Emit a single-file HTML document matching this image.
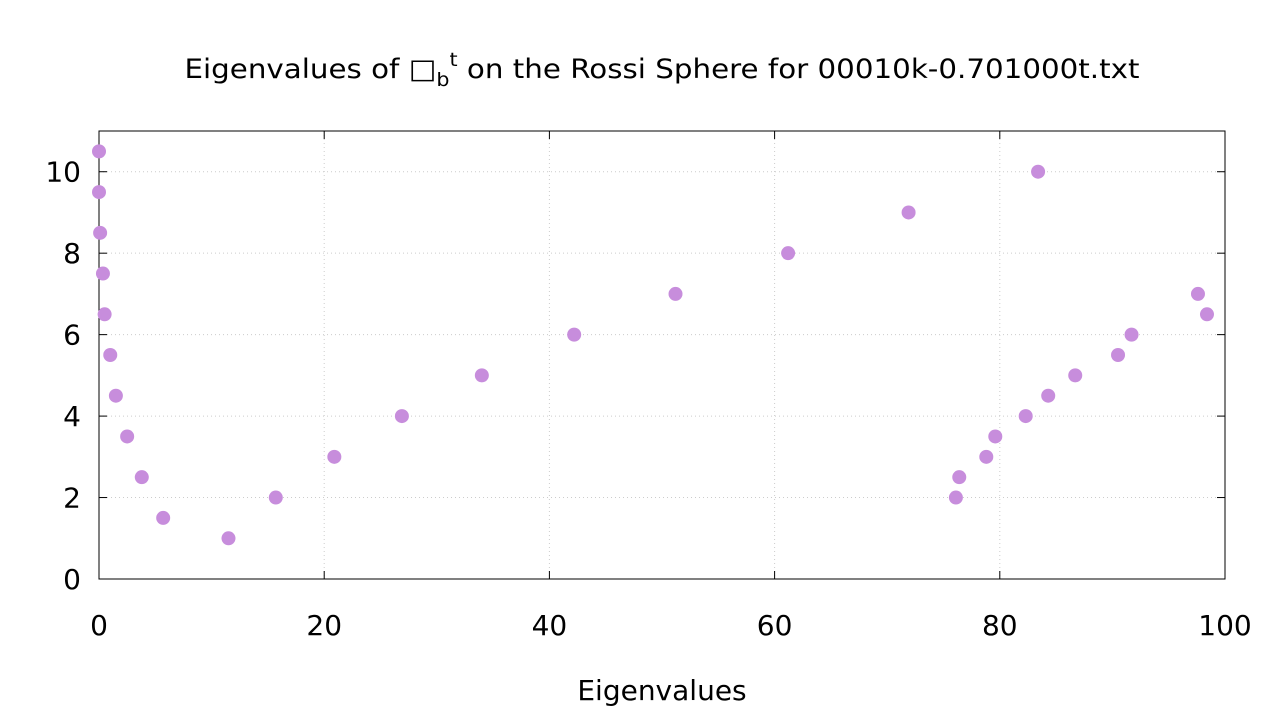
<!DOCTYPE html>
<html><head><meta charset="utf-8"><style>
body{margin:0;background:#fff;}
svg{display:block;font-family:"DejaVu Sans","Liberation Sans",sans-serif;}
</style></head><body>
<svg id="chart" width="1280" height="720">
<rect width="1280" height="720" fill="#fff"/>
<text x="662" y="78" text-anchor="middle" font-size="27" textLength="955" lengthAdjust="spacingAndGlyphs" fill="#000">Eigenvalues of □<tspan font-size="19" dy="8">b</tspan><tspan font-size="19" dy="-20">t</tspan><tspan dy="12"> on the Rossi Sphere for 00010k-0.701000t.txt</tspan></text>
<text x="662" y="700" text-anchor="middle" font-size="28" fill="#000">Eigenvalues</text>
<g id="grid"></g><g id="axes"></g><g id="points"></g>
</svg>
<script>
const xTicks=[0,20,40,60,80,100];
const yTicks=[0,2,4,6,8,10];
const xs=[0,0,0.1,0.35,0.5,1,1.5,2.5,3.8,5.7,11.5,15.7,20.9,26.9,34,42.2,51.2,61.2,71.9,83.4,76.1,76.4,78.8,79.6,82.3,84.3,86.7,90.5,91.7,97.6,98.4];
const ys=[10.5,9.5,8.5,7.5,6.5,5.5,4.5,3.5,2.5,1.5,1,2,3,4,5,6,7,8,9,10,2,2.5,3,3.5,4,4.5,5,5.5,6,7,6.5];
const L=99,R=1225,T=131,B=579;
const sx=v=>L+(R-L)*v/100, sy=v=>B-(B-T)*v/11;
const NS="http://www.w3.org/2000/svg";
function mk(t,a,p){const e=document.createElementNS(NS,t);for(const k in a)e.setAttribute(k,a[k]);p.appendChild(e);return e;}
const g=document.getElementById('grid'),ax=document.getElementById('axes'),pts=document.getElementById('points');
xTicks.forEach(v=>{const x=sx(v);
 if(v>0&&v<100){const l=mk('line',{x1:x,x2:x,y1:T,y2:B,stroke:'#ccc','stroke-dasharray':'1,3'},g);
 
 }
 mk('line',{x1:x,x2:x,y1:B,y2:B-8,stroke:'#000'},ax);mk('line',{x1:x,x2:x,y1:T,y2:T+8,stroke:'#000'},ax);
 const t=mk('text',{x:x,y:635,'text-anchor':'middle','font-size':'28'},ax);t.textContent=v;
 
 });
yTicks.forEach(v=>{const y=sy(v);
 if(v>0){const l=mk('line',{x1:L,x2:R,y1:y,y2:y,stroke:'#ccc','stroke-dasharray':'1,3'},g);
 
 }
 mk('line',{x1:L,x2:L+8,y1:y,y2:y,stroke:'#000'},ax);mk('line',{x1:R,x2:R-8,y1:y,y2:y,stroke:'#000'},ax);
 const t=mk('text',{x:81,y:y+10,'text-anchor':'end','font-size':'28'},ax);t.textContent=v;
 
 });
const fr=mk('rect',{x:L,y:T,width:R-L,height:B-T,fill:'none',stroke:'#000'},ax);


xs.forEach((v,i)=>{const c=mk('circle',{cx:sx(v),cy:sy(ys[i]),r:7,fill:'#c78ddc'},pts);
 
 });
</script>
</body></html>
